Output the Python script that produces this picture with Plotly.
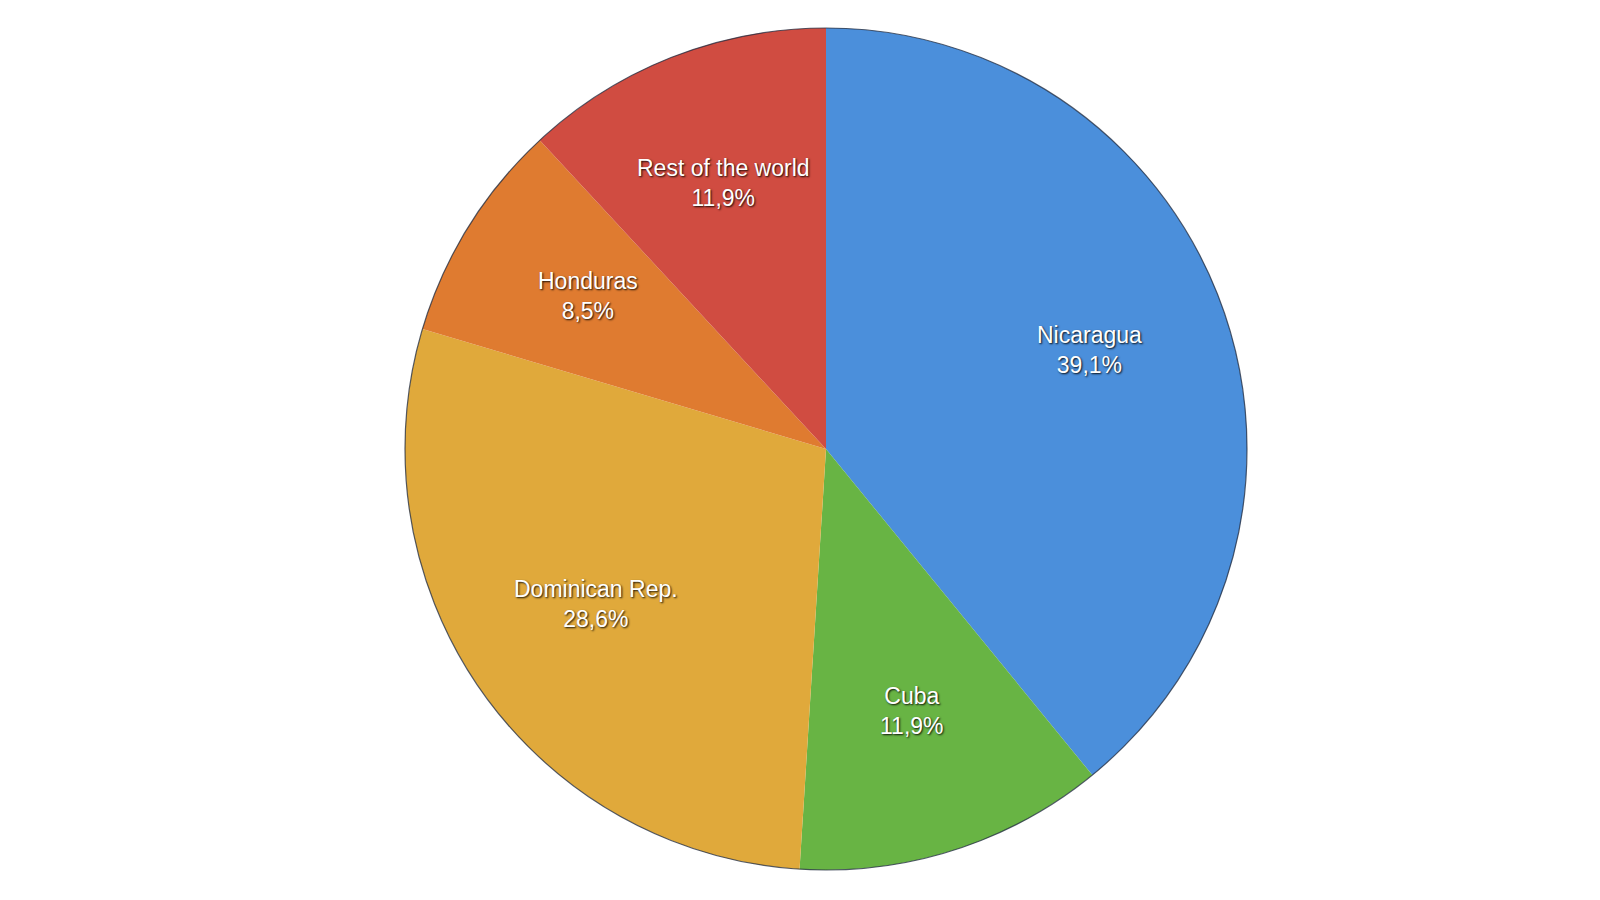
import math

import plotly.graph_objects as go

countries = ["Nicaragua", "Cuba", "Dominican Rep.", "Honduras", "Rest of the world"]
shares = [39.1, 11.9, 28.6, 8.5, 11.9]
colors = ["#4b8fdb", "#68b444", "#e0a93b", "#df7b30", "#d04c41"]

W, H = 1600, 900
PAGE_OFFSET = 8  # body margin of the html page
cx, cy, r = 826 - PAGE_OFFSET, 449 - PAGE_OFFSET, 421  # pie centre / radius in pixels
LABEL_LIFT = 5  # labels sit a touch above the geometric centre

x0, x1 = (cx - r) / W, (cx + r) / W
y0, y1 = 1 - (cy + r) / H, 1 - (cy - r) / H

fig = go.Figure(
    go.Pie(
        labels=countries,
        values=shares,
        sort=False,
        direction="clockwise",
        rotation=0,
        marker=dict(colors=colors, line=dict(width=0)),
        textinfo="none",
        hoverinfo="label+percent",
        domain=dict(x=[x0, x1], y=[y0, y1]),
        showlegend=False,
    )
)

# outer rim
fig.add_shape(
    type="circle", xref="paper", yref="paper",
    x0=x0, x1=x1, y0=y0, y1=y1,
    line=dict(color="rgba(30,40,60,0.75)", width=1.2),
)

# labels at mid-angle of each slice
total = sum(shares)
acc = 0.0
for name, val in zip(countries, shares):
    mid = (acc + val / 2) / total * 2 * math.pi
    acc += val
    lx = cx + 0.665 * r * math.sin(mid)
    ly = cy - LABEL_LIFT - 0.665 * r * math.cos(mid)
    fig.add_annotation(
        x=lx / W, y=1 - ly / H, xref="paper", yref="paper",
        xanchor="center", yanchor="middle",
        text=f"{name}<br>{str(val).replace('.', ',')}%",
        showarrow=False,
        font=dict(family="Liberation Sans, Arial, sans-serif", size=23, color="white",
                  shadow="1px 1px 2px rgba(0,0,0,0.9)"),
        align="center",
    )

fig.update_layout(
    width=W,
    height=H,
    margin=dict(l=0, r=0, t=0, b=0),
    paper_bgcolor="white",
    plot_bgcolor="white",
)

fig.write_html("out.html")
